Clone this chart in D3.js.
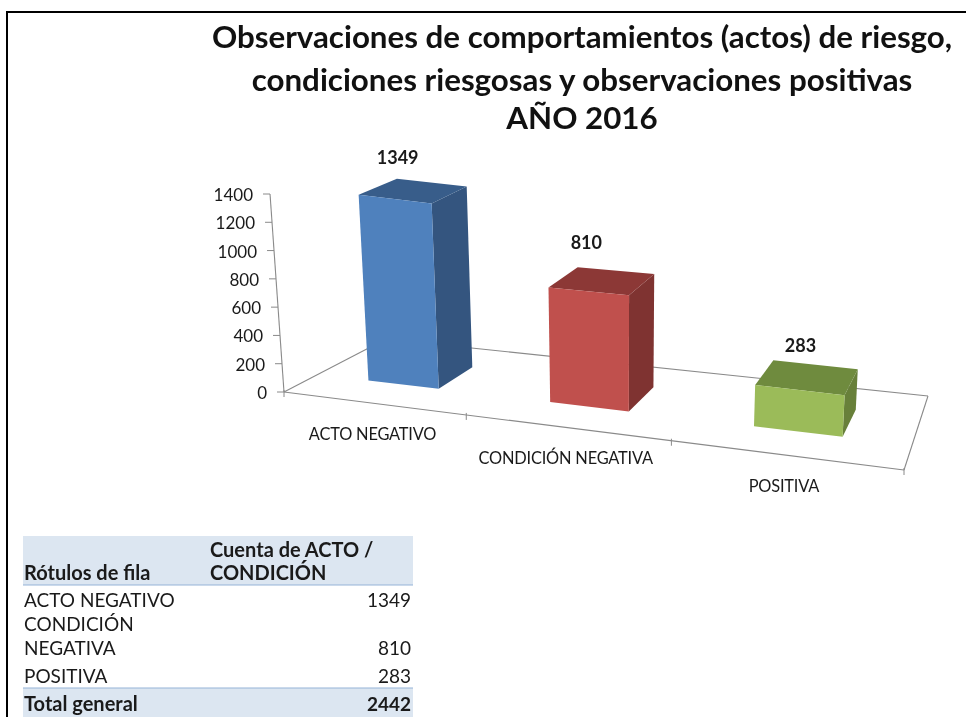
<!DOCTYPE html>
<html><head><meta charset="utf-8">
<script src="https://cdnjs.cloudflare.com/ajax/libs/d3/7.8.5/d3.min.js"></script>
<style>html,body{margin:0;padding:0;background:#fff}svg{display:block;filter:blur(.35px)}text{font-family:Lato,"Open Sans",sans-serif}</style>
</head><body><svg id="c" width="966" height="717"></svg>
<script>
const titleLines = ["Observaciones de comportamientos (actos) de riesgo,","condiciones riesgosas y observaciones positivas","AÑO 2016"];
const categories = ["ACTO NEGATIVO","CONDICIÓN NEGATIVA","POSITIVA"];
const values = [1349,810,283];
const yTicks = [0,200,400,600,800,1000,1200,1400];
const faceColors = ["#4f81bd","#c0504d","#9bbb59"];
const sideColors = ["#34557f","#7f3331","#68803a"];
const topColors = ["#385d8a","#8c3836","#6f8b3e"];
const tableHead = ["Rótulos de fila","Cuenta de ACTO /","CONDICIÓN"];
const tableRows = [["ACTO NEGATIVO",1349],["CONDICIÓN","" ],["NEGATIVA",810],["POSITIVA",283]];
const tableTotal = ["Total general",2442];

const svg = d3.select("#c");
const ink="#1a1a1a", axisC="#8a8a8a";
svg.append("rect").attr("x",7).attr("y",12).attr("width",1000).attr("height",800).attr("fill","none").attr("stroke","#000").attr("stroke-width",2);

svg.append("g").selectAll("text").data(titleLines).join("text")
 .attr("x",582).attr("y",(d,i)=>[48,91,129][i]).attr("text-anchor","middle")
 .attr("font-size",31.3).attr("font-weight",700).attr("fill","#111").text(d=>d);

// floor homography
const P=[[284,392],[904,470],[928,396],[386,339]];
function homography(p){const [a,b,c,d]=p;
 const dx1=b[0]-c[0],dx2=d[0]-c[0],sx=a[0]-b[0]+c[0]-d[0],dy1=b[1]-c[1],dy2=d[1]-c[1],sy=a[1]-b[1]+c[1]-d[1];
 const den=dx1*dy2-dx2*dy1,g=(sx*dy2-dx2*sy)/den,h=(dx1*sy-sx*dy1)/den;
 return (u,v)=>{const w=g*u+h*v+1;return [(b[0]-a[0]+g*b[0])*u+(d[0]-a[0]+h*d[0])*v+a[0],(b[1]-a[1]+g*b[1])*u+(d[1]-a[1]+h*d[1])*v+a[1]].map(t=>t/w);};}
const H=homography(P);
const band=d3.scaleBand().domain(categories).range([0,1]).paddingInner(.6).paddingOuter(.3);
const val=d3.scaleLinear().domain([0,1400]).range([0,1]);
const kU=d3.scaleLinear().domain([0,.15,.5,1]).range([198,190,200,208]);
const v0=.30,v1=.68;
const kV=d3.scaleLinear().domain([v0,v1]).range([1,.975]).clamp(true);
function proj(u,v,value){const [x,y]=H(u,v);const ph=kU(u)*kV(v)*val(value);return [x+(x-620)*.00021*ph,y-ph];}
const line=d3.line();

// floor
const g=svg.append("g");
const floorEdges=[[0,0,1,0],[1,0,1,1],[1,1,0,1],[0,1,0,0]];
g.selectAll("line.f").data(floorEdges).join("line").attr("class","f")
 .attr("x1",d=>H(d[0],d[1])[0]).attr("y1",d=>H(d[0],d[1])[1]).attr("x2",d=>H(d[2],d[3])[0]).attr("y2",d=>H(d[2],d[3])[1])
 .attr("stroke",axisC).attr("stroke-width",1.1);
// category ticks
g.selectAll("line.ct").data([0,1/3,2/3,1]).join("line").attr("class","ct")
 .attr("x1",d=>H(d,0)[0]).attr("y1",d=>H(d,0)[1]-2).attr("x2",d=>H(d,0)[0]).attr("y2",d=>H(d,0)[1]+5).attr("stroke",axisC);
// y axis
g.append("path").attr("d",line([proj(0,0,0),proj(0,0,1400)])).attr("stroke",axisC).attr("fill","none").attr("stroke-width",1.1);
g.selectAll("line.yt").data(yTicks).join("line").attr("class","yt")
 .attr("x1",d=>proj(0,0,d)[0]-7).attr("y1",d=>proj(0,0,d)[1]).attr("x2",d=>proj(0,0,d)[0]).attr("y2",d=>proj(0,0,d)[1]).attr("stroke",axisC);
g.selectAll("text.yl").data(yTicks).join("text").attr("class","yl")
 .attr("x",d=>proj(0,0,d)[0]-17).attr("y",d=>proj(0,0,d)[1]+7).attr("text-anchor","end")
 .attr("font-size",17).attr("fill",ink).text(d=>d);

// bars
categories.forEach((c,i)=>{
 const u0=band(c),u1=u0+band.bandwidth(),h=values[i];
 const FL=proj(u0,v0,0),FR=proj(u1,v0,0),BR=proj(u1,v1,0),fl=proj(u0,v0,h),fr=proj(u1,v0,h),br=proj(u1,v1,h),bl=proj(u0,v1,h);
 g.append("path").attr("d",line([FR,BR,br,fr])+"Z").attr("fill",sideColors[i]);
 g.append("path").attr("d",line([fl,fr,br,bl])+"Z").attr("fill",topColors[i]);
 g.append("path").attr("d",line([FL,FR,fr,fl])+"Z").attr("fill",faceColors[i]);
});
// value labels
const lift=d3.scaleLinear().domain([283,810,1349]).range([8,18,15]).clamp(true);
const shift=d3.scaleLinear().domain([283,810]).range([-7,-16]).clamp(true);
g.selectAll("text.vl").data(categories).join("text").attr("class","vl")
 .attr("x",(c,i)=>{const u=band(c)+band.bandwidth()/2;return proj(u,(v0+v1)/2,values[i])[0]+shift(values[i]);})
 .attr("y",(c,i)=>proj(band(c),v1,values[i])[1]-lift(values[i]))
 .attr("text-anchor","middle").attr("font-size",18).attr("font-weight",700).attr("fill",ink).text((c,i)=>values[i]);
// category labels
const catX=d3.scaleBand().domain(categories).range([0,1]);
g.selectAll("text.cl").data(categories).join("text").attr("class","cl")
 .attr("x",c=>{const u=catX(c)+catX.bandwidth()/2;return H(u,0)[0];})
 .attr("y",c=>{const u=catX(c)+catX.bandwidth()/2;return H(u,0)[1]+37;})
 .attr("text-anchor","middle").attr("font-size",16.4).attr("fill",ink).attr("letter-spacing",-.2).text(c=>c);

// table
const t=svg.append("g");
const tx=23,tw=390;
t.append("rect").attr("x",tx).attr("y",536).attr("width",tw).attr("height",49).attr("fill","#dce6f1");
t.append("rect").attr("x",tx).attr("y",688).attr("width",tw).attr("height",29).attr("fill","#dce6f1");
t.selectAll("line").data([585,688]).join("line").attr("x1",tx).attr("x2",tx+tw).attr("y1",d=>d).attr("y2",d=>d).attr("stroke","#95b3d7");
const tf=19,tb=20;
t.append("text").attr("x",24).attr("y",580).attr("font-size",tb).attr("font-weight",700).attr("fill",ink).text(tableHead[0]);
t.append("text").attr("x",210).attr("y",557).attr("font-size",tb).attr("font-weight",700).attr("fill",ink).text(tableHead[1]);
t.append("text").attr("x",210).attr("y",580).attr("font-size",tb).attr("font-weight",700).attr("fill",ink).text(tableHead[2]);
const rowY=[607,631,655,683];
tableRows.forEach((r,i)=>{
 t.append("text").attr("x",24).attr("y",rowY[i]).attr("font-size",tf).attr("fill",ink).text(r[0]);
 t.append("text").attr("x",411).attr("y",rowY[i]).attr("text-anchor","end").attr("font-size",tf).attr("fill",ink).text(r[1]);
});
t.append("text").attr("x",24).attr("y",711).attr("font-size",tb).attr("font-weight",700).attr("fill",ink).text(tableTotal[0]);
t.append("text").attr("x",411).attr("y",711).attr("text-anchor","end").attr("font-size",tf).attr("font-weight",700).attr("fill",ink).text(tableTotal[1]);
</script></body></html>
